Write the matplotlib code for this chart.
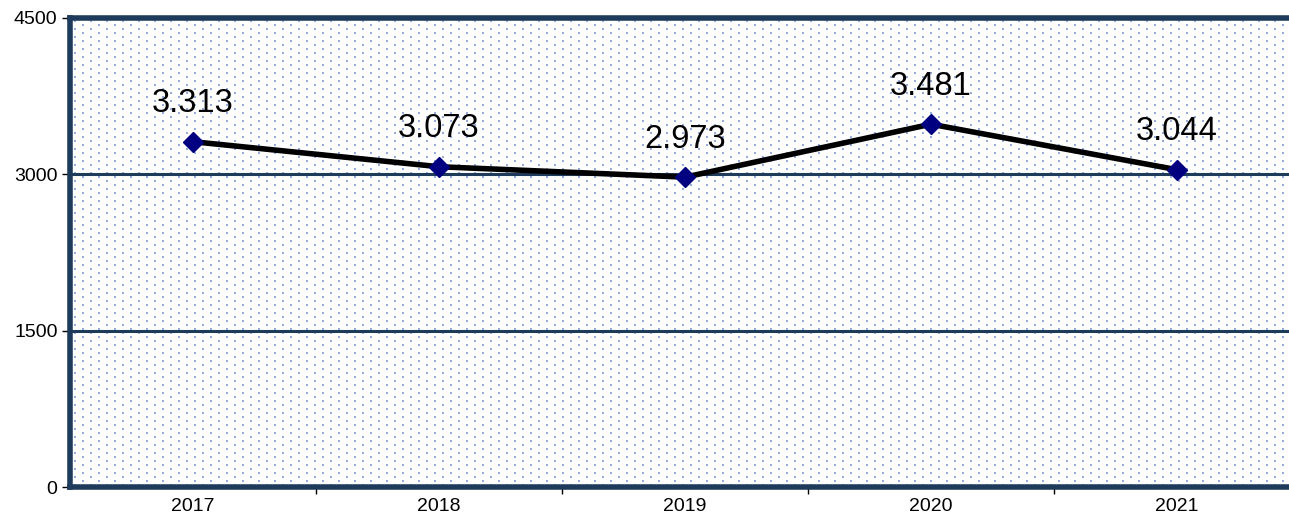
import matplotlib
matplotlib.use("Agg")
import matplotlib.pyplot as plt
import numpy as np

plt.rcParams['font.family'] = ['Liberation Sans', 'DejaVu Sans']

anos = ['2017', '2018', '2019', '2020', '2021']
valores = [3313, 3073, 2973, 3481, 3044]
etiquetas = ['3.313', '3.073', '2.973', '3.481', '3.044']
yticks = [0, 1500, 3000, 4500]

navy = '#1F3B5C'
punto = (0x92 / 255, 0xAE / 255, 0xE0 / 255, 1.0)

fig = plt.figure(figsize=(12.89, 5.15), dpi=100)
ax = fig.add_axes([70/1289, 28/515, 1230/1289, 469/515])
ax.set_xlim(-0.5, 4.5)
ax.set_ylim(0, 4500)
ax.patch.set_alpha(0)

# fondo punteado (trama de puntos 2x2 px, paso 8 px, columnas alternas desplazadas)
bb = ax.get_window_extent()
w, h = int(1289 - bb.x0), int(bb.height)
trama = np.zeros((h, w, 4))
for cx in range(4, w, 8):
    off = 2 if (cx // 8) % 2 == 0 else 6
    for cy in range(off, h, 8):
        trama[cy:cy + 2, cx:cx + 2] = punto
fig.figimage(trama, xo=int(bb.x0), yo=int(bb.y0), zorder=-1)

for y in [1500, 3000]:
    ax.axhline(y, color=navy, lw=2.2, zorder=1)

x = list(range(len(anos)))
ax.plot(x, valores, color='black', lw=4, zorder=3)
ax.plot(x, valores, ls='none', marker='D', ms=10, color='#000080', zorder=4)

for xi, v, t in zip(x, valores, etiquetas):
    ax.text(xi, v + 215, t, ha='center', va='bottom', fontsize=23.5, zorder=5)

for lado in ['left', 'top', 'bottom']:
    ax.spines[lado].set_color(navy)
    ax.spines[lado].set_linewidth(4)
ax.spines['right'].set_visible(False)

ax.set_yticks(yticks)
ax.set_yticklabels([str(v) for v in yticks], fontsize=14)
ax.set_xticks(x)
ax.set_xticklabels(anos, fontsize=14)
ax.set_xticks([i + 0.5 for i in range(4)], minor=True)
ax.tick_params(axis='x', which='major', length=0, pad=8)
ax.tick_params(axis='x', which='minor', length=5, width=1, color='black')
ax.tick_params(axis='y', length=6, width=1, color='black', pad=3)

fig.savefig('out.png', dpi=100)
